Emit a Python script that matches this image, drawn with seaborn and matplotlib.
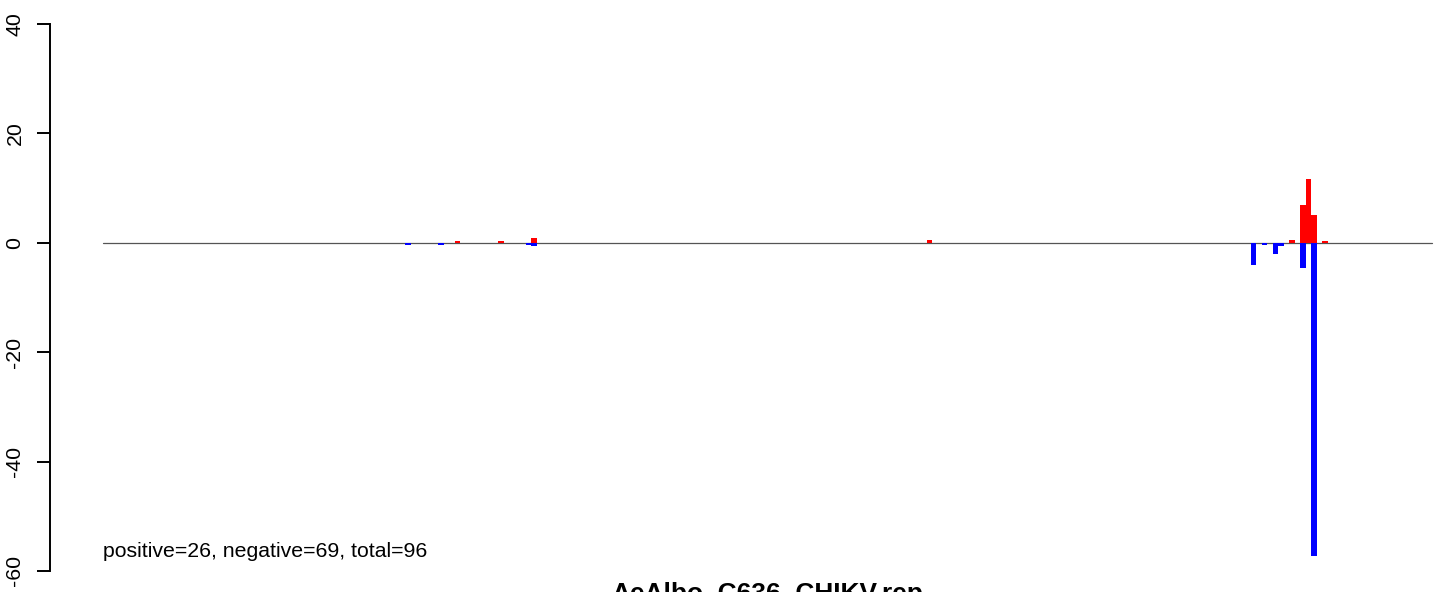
import pandas as pd
import matplotlib
matplotlib.use("Agg")
import matplotlib.pyplot as plt
import seaborn as sns

sns.set_style("white")
plt.rcParams['font.family'] = ['Liberation Sans', 'DejaVu Sans']
plt.rcParams['text.color'] = 'black'
plt.rcParams['ytick.color'] = 'black'

# bins along the sequence (left edge index) and signed counts
n_bins = 242
pos_bins = [64, 72, 78, 150, 216, 218, 219, 220, 222]
pos_vals = [0.35, 0.35, 0.8, 0.45, 0.45, 6.9, 11.7, 5.1, 0.35]
neg_bins = [55, 61, 77, 78, 209, 211, 213, 214, 218, 220]
neg_vals = [-0.35, -0.35, -0.35, -0.6, -4.0, -0.45, -2.0, -0.5, -4.6, -57.2]

title = "AeAlbo_C636_CHIKV.rep"
note = "positive=26, negative=69, total=96"
yticks = [-60, -40, -20, 0, 20, 40]

df = pd.DataFrame({
    "bin": [b + 0.5 for b in pos_bins + neg_bins],
    "value": pos_vals + neg_vals,
    "sign": ["pos"] * len(pos_bins) + ["neg"] * len(neg_bins),
})

W, H = 1441, 592
fig = plt.figure(figsize=(W / 100, H / 100), dpi=100)
ax = fig.add_axes([50 / W, 21 / H, 1435 / W, 547 / H])

sns.barplot(data=df, x="bin", y="value", hue="sign", palette={"pos": "#FF0000", "neg": "#0000FF"},
            saturation=1, native_scale=True, dodge=False, width=1, errorbar=None,
            linewidth=0, legend=False, ax=ax)

ax.plot([0, n_bins], [0, 0], color="#555555", lw=0.9, zorder=0)

ax.set_xlim(-0.04 * n_bins, 1.04 * n_bins)
ax.set_ylim(-60, 40)
ax.set_xticks([])
ax.set_yticks(yticks)
ax.set_yticklabels([str(t) for t in yticks], rotation=90, va="center")
ax.tick_params(axis="y", direction="out", length=9.4, width=1.4, pad=9, labelsize=15.3,
               left=True, colors="black")
ax.set_xlabel("")
ax.set_ylabel("")
for s in ["top", "right", "bottom"]:
    ax.spines[s].set_visible(False)
ax.spines["left"].set_linewidth(1.4)
ax.spines["left"].set_color("black")

ax.text(0, -57.4, note, fontsize=15.3, va="baseline", ha="left", color="black")
fig.text(767.5 / W, -0.0149, title, fontsize=18.9, fontweight="bold", ha="center",
         va="baseline", color="black")

fig.savefig("out.png", dpi=100)
